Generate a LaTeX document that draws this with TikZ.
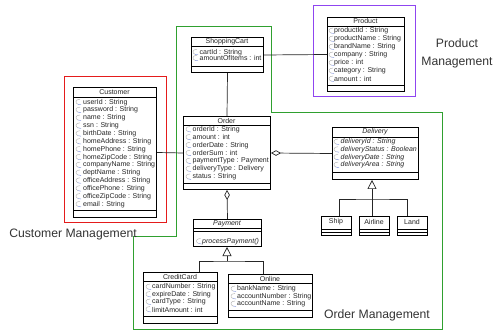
\documentclass[tikz,border=0pt]{standalone}
\usepackage{fontspec}
\setmainfont{Liberation Sans}
\usetikzlibrary{arrows.meta}
\definecolor{custred}{HTML}{E41B1B}
\definecolor{ordergreen}{HTML}{2FA02F}
\definecolor{prodviolet}{HTML}{8F45F0}
\definecolor{iconblue}{HTML}{6F84D6}
\tikzset{classbox/.style={draw=black,line width=1pt,fill=white,anchor=north west,inner sep=0pt},compline/.style={draw=black,line width=.8pt},classname/.style={font=\fontsize{7}{8}\selectfont,inner sep=0pt,text=black!85},attr/.style={font=\fontsize{7}{8}\selectfont,anchor=west,inner sep=0pt,text=black!85},attrit/.style={attr,font=\fontsize{7}{8}\selectfont\itshape},connector/.style={draw=black!85,line width=.7pt},aggr/.style={connector,{Diamond[open,length=10pt,width=5.5pt]}-},inherit/.style={connector,-{Triangle[open,length=9pt,width=9pt]}},regionlabel/.style={font=\fontsize{12.2}{17.7}\selectfont,text=black!80,align=center,inner sep=0pt},attricon/.pic={\draw[gray!65,line width=.4pt] (2,-3) .. controls (-3,-3) and (-3,1) .. (0,2);\draw[iconblue,line width=.4pt] (0,2) .. controls (1.5,3) .. (3,2.5);}}

\begin{document}
\begin{tikzpicture}[x=1pt,y=-1pt]
\useasboundingbox (0,0) rectangle (498,331);
% regions
\draw[custred,line width=1pt] (64,77) rectangle (166,223);
\draw[prodviolet,line width=1pt] (313,6) rectangle (415,97);
\draw[ordergreen,line width=1pt] (176,27) -- (271,27) -- (271,113) -- (442,113) -- (442,329) -- (133,329) -- (133,237) -- (176,237) -- cycle;
\node[regionlabel] (custlabel) at (73,235) {Customer Management};
\node[regionlabel] (orderlabel) at (377,315) {Order Management};
\node[regionlabel] (prodlabel) at (457,53) {Product\\Management};
% Customer
\node[classbox,minimum width=83pt,minimum height=130pt] (customer) at (73,87) {};
\node[classname] (customername) at (114.5,92) {Customer};
\draw[compline] (73,97) -- (156,97);
\draw[compline] (73,210) -- (156,210);
\foreach \a [count=\i from 0] in {userId : String,password : String,name : String,ssn : String,birthDate : String,homeAddress : String,homePhone : String,homeZipCode : String,companyName : String,deptName : String,officeAddress : String,officePhone : String,officeZipCode : String,email : String}{
  \pic at (78,{102.3+\i*7.85}) {attricon};
  \node[attr] (customer-a\i) at (83,{102.3+\i*7.85}) {\a};
}
% ShoppingCart
\node[classbox,minimum width=72pt,minimum height=35pt] (cart) at (191,37) {};
\node[classname] (cartname) at (227,41.5) {ShoppingCart};
\draw[compline] (191,46) -- (263,46);
\draw[compline] (191,66) -- (263,66);
\foreach \a [count=\i from 0] in {cartId : String,amountOfItems : int}{
  \pic at (195,{52.3+\i*6}) {attricon};
  \node[attr] (cart-a\i) at (199.5,{52.3+\i*6}) {\a};
}
% Product
\node[classbox,minimum width=77pt,minimum height=74pt] (product) at (327,17) {};
\node[classname] (productname) at (365.5,21.5) {Product};
\draw[compline] (327,26) -- (404,26);
\draw[compline] (327,85) -- (404,85);
\foreach \a [count=\i from 0] in {productId : String,productName : String,brandName : String,company : String,price : int,category : String,amount : int}{
  \pic at (331,{31+\i*8}) {attricon};
  \node[attr] (product-a\i) at (334,{31+\i*8}) {\a};
}
% Order
\node[classbox,minimum width=87pt,minimum height=73pt] (order) at (183,116) {};
\node[classname] (ordername) at (226.5,120.5) {Order};
\draw[compline] (183,125) -- (270,125);
\draw[compline] (183,183) -- (270,183);
\foreach \a [count=\i from 0] in {orderId : String,amount : int,orderDate : String,orderSum : int,paymentType : Payment,deliveryType : Delivery,status : String}{
  \pic at (188,{129.5+\i*7.9}) {attricon};
  \node[attr] (order-a\i) at (192.5,{129.5+\i*7.9}) {\a};
}
% Delivery
\node[classbox,minimum width=86pt,minimum height=52pt] (delivery) at (332,127) {};
\node[classname,font=\fontsize{7}{8}\selectfont\itshape] (deliveryname) at (375,132) {Delivery};
\draw[compline] (332,137) -- (418,137);
\draw[compline] (332,172) -- (418,172);
\foreach \a [count=\i from 0] in {deliveryId : String,deliveryStatus : Boolean,deliveryDate : String,deliveryArea : String}{
  \pic at (336,{142+\i*7.7}) {attricon};
  \node[attrit] (delivery-a\i) at (340.5,{142+\i*7.7}) {\a};
}
% Delivery subclasses
\node[classbox,minimum width=30pt,minimum height=19pt] (ship) at (321,216) {};
\node[classbox,minimum width=30pt,minimum height=19pt] (airline) at (359,216) {};
\node[classbox,minimum width=30pt,minimum height=19pt] (land) at (397,216) {};
\node[classname] (shipname) at (336,222) {Ship};
\node[classname] (airlinename) at (374,222) {Airline};
\node[classname] (landname) at (412,222) {Land};
\foreach \b in {321,359,397}{
  \draw[compline] (\b,229) -- ++(30,0);
  \draw[compline] (\b,232) -- ++(30,0);
}
% Payment
\node[classbox,minimum width=68pt,minimum height=27pt] (payment) at (193,219) {};
\node[classname,font=\fontsize{7}{8}\selectfont\itshape] (paymentname) at (227,223.5) {Payment};
\draw[compline] (193,228) -- (261,228);
\draw[compline] (193,231) -- (261,231);
\pic at (198.5,241.5) {attricon};
\node[attrit] (payment-m0) at (202,241.5) {processPayment()};
% CreditCard
\node[classbox,minimum width=74pt,minimum height=51pt] (creditcard) at (143,272) {};
\node[classname] (creditcardname) at (180,277) {CreditCard};
\draw[compline] (143,281) -- (217,281);
\draw[compline] (143,316) -- (217,316);
\foreach \a [count=\i from 0] in {cardNumber : String,expireDate : String,cardType : String,limitAmount : int}{
  \pic at (148,{287+\i*7.5}) {attricon};
  \node[attr] (creditcard-a\i) at (152,{287+\i*7.5}) {\a};
}
% Online
\node[classbox,minimum width=84pt,minimum height=43pt] (online) at (228,274) {};
\node[classname] (onlinename) at (270,279) {Online};
\draw[compline] (228,283) -- (312,283);
\draw[compline] (228,310) -- (312,310);
\foreach \a [count=\i from 0] in {bankName : String,accountNumber : String,accountName : String}{
  \pic at (233,{289+\i*7.5}) {attricon};
  \node[attr] (online-a\i) at (237,{289+\i*7.5}) {\a};
}
% associations
\draw[connector] (customer.east) -- (order.west);
\draw[connector] (cart.east) -- (product.west);
\draw[connector] (cart.south) -- (order.north);
\draw[aggr] (order.east) -- (delivery.west);
\draw[aggr] (order.south) -- (payment.north);
% generalizations
\coordinate (djoin) at (372,199);
\draw[inherit] (djoin) -- (djoin |- delivery.south);
\draw[connector] ([xshift=3pt]ship.north) |- (djoin) -| ([xshift=-5pt]land.north);
\draw[connector] (airline.north -| djoin) -- (djoin);
\coordinate (pjoin) at (227,261);
\draw[inherit] (pjoin) -- (pjoin |- payment.south);
\draw[connector] ([xshift=19pt]creditcard.north) |- (pjoin) -| ([xshift=-7pt]online.north);
\end{tikzpicture}
\end{document}
